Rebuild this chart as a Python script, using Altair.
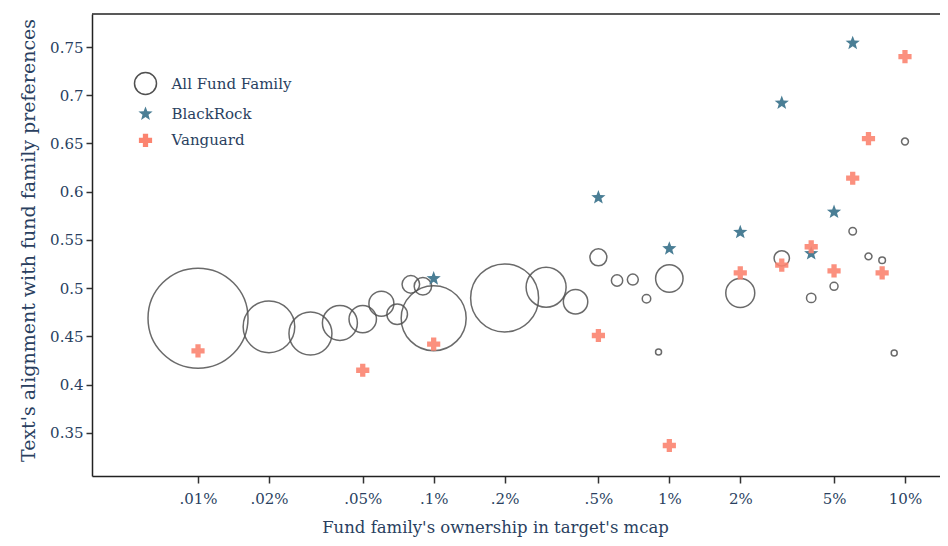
import math
import altair as alt
import pandas as pd

# ---- data ----
all_x = [0.01, 0.02, 0.03, 0.04, 0.05, 0.06, 0.07, 0.08, 0.09,
         0.1, 0.2, 0.3, 0.4, 0.5, 0.6, 0.7, 0.8, 0.9,
         1, 2, 3, 4, 5, 6, 7, 8, 9, 10]
all_y = [0.469, 0.460, 0.453, 0.464, 0.468, 0.484, 0.473, 0.504, 0.502,
         0.469, 0.490, 0.501, 0.486, 0.532, 0.508, 0.509, 0.489, 0.434,
         0.510, 0.495, 0.531, 0.490, 0.502, 0.559, 0.533, 0.529, 0.433, 0.652]
all_obs = [2500, 666, 462, 306, 188, 156, 106, 77, 76,
           1056, 1156, 400, 149, 72, 32, 30, 18, 9,
           188, 210, 59, 22, 16, 14, 12, 11, 9, 12]

br_x = [0.1, 0.5, 1, 2, 3, 4, 5, 6]
br_y = [0.510, 0.594, 0.541, 0.558, 0.692, 0.536, 0.579, 0.754]

vg_x = [0.01, 0.05, 0.1, 0.5, 1, 2, 3, 4, 5, 6, 7, 8, 10]
vg_y = [0.435, 0.415, 0.442, 0.451, 0.337, 0.516, 0.524, 0.543, 0.518, 0.614, 0.655, 0.516, 0.740]

series = ["All Fund Family", "BlackRock", "Vanguard"]
x_ticks = [0.01, 0.02, 0.05, 0.1, 0.2, 0.5, 1, 2, 5, 10]
y_ticks = [0.35, 0.4, 0.45, 0.5, 0.55, 0.6, 0.65, 0.7, 0.75]

rows = []
for x, y, n in zip(all_x, all_y, all_obs):
    rows.append({"own": x, "align": y, "series": series[0], "obs": n})
for x, y in zip(br_x, br_y):
    rows.append({"own": x, "align": y, "series": series[1], "obs": None})
for x, y in zip(vg_x, vg_y):
    rows.append({"own": x, "align": y, "series": series[2], "obs": None})
df = pd.DataFrame(rows)

# ---- styling ----
FONT = "DejaVu Serif"
TXT = "#2a3f5f"
TEAL = "#4a7e95"
SALMON = "#fb8470"
W, H = 848, 462

def star_path(R=0.68, ratio=0.42):
    pts = []
    for i in range(10):
        r = R if i % 2 == 0 else R * ratio
        a = -math.pi / 2 + i * math.pi / 5
        pts.append(f"{r*math.cos(a):.4f},{r*math.sin(a):.4f}")
    return "M" + "L".join(pts) + "Z"

a, b = 0.6, 0.24
plus_path = (f"M{-a},{-b}H{-b}V{-a}H{b}V{-b}H{a}V{b}H{b}V{a}H{-b}V{b}H{-a}Z")

x_enc = alt.X("own:Q", title="Fund family's ownership in target's mcap",
              scale=alt.Scale(type="log", domain=[0.003549, 14.08], nice=False),
              axis=alt.Axis(values=x_ticks, grid=False,
                            labelExpr="datum.value < 1 ? slice(format(datum.value, '~g'), 1) + '%' : format(datum.value, '~g') + '%'",
                            titleX=403, titleFontSize=16.5))
y_enc = alt.Y("align:Q", title="Text's alignment with fund family preferences",
              scale=alt.Scale(domain=[0.3054, 0.7842], nice=False, zero=False),
              axis=alt.Axis(values=y_ticks, grid=False, format="~g",
                            titleFontSize=19, titleY=226))

shape_enc = alt.Shape("series:N", title=None,
                      scale=alt.Scale(domain=series, range=["circle", star_path(), plus_path]),
                      legend=alt.Legend(orient="none", legendX=41.5, legendY=57.5,
                                        symbolSize=484, labelOffset=14, rowPadding=4.4,
                                        padding=0, symbolStrokeWidth=1.5, symbolOpacity=1,
                                        labelFont=FONT, labelFontSize=15, labelColor=TXT))
fill_enc = alt.Fill("series:N", title=None,
                    scale=alt.Scale(domain=series, range=["transparent", TEAL, SALMON]))
stroke_enc = alt.Stroke("series:N", title=None,
                        scale=alt.Scale(domain=series, range=["#505050", "transparent", "transparent"]))

base = alt.Chart(df)

circles = base.transform_filter(alt.datum.series == series[0]).mark_point(
    strokeWidth=1.5, opacity=1, strokeOpacity=0.85, filled=False
).encode(
    x=x_enc, y=y_enc, shape=shape_enc, fill=fill_enc, stroke=stroke_enc,
    size=alt.Size("obs:Q", legend=None,
                  scale=alt.Scale(type="linear", domain=[0, 2500], range=[0, 4 * 2500]))
)

stars = base.transform_filter(alt.datum.series == series[1]).mark_point(
    size=484, strokeWidth=0, opacity=1
).encode(x=x_enc, y=y_enc, shape=shape_enc, fill=fill_enc, stroke=stroke_enc)

pluses = base.transform_filter(alt.datum.series == series[2]).mark_point(
    size=484, strokeWidth=0, opacity=0.9
).encode(x=x_enc, y=y_enc, shape=shape_enc, fill=fill_enc, stroke=stroke_enc)

top_line = alt.Chart(pd.DataFrame({"k": [0]})).mark_rule(
    color="#222", strokeWidth=1.5
).encode(x=alt.value(0), x2=alt.value(W), y=alt.value(0))

chart = alt.layer(circles, stars, pluses, top_line).properties(
    width=W, height=H,
    autosize=alt.AutoSizeParams(type="none"),
    padding={"left": 84, "top": 6, "right": 0, "bottom": 62},
).configure_view(stroke=None).configure_axis(
    labelFont=FONT, titleFont=FONT, labelColor=TXT, titleColor=TXT,
    labelFontSize=15, titleFontWeight="normal",
    domainColor="#222", domainWidth=1.5, tickColor="#333", tickWidth=1.5,
).configure_axisX(tickSize=7, labelPadding=8, titlePadding=13
).configure_axisY(tickSize=6, labelPadding=3, titlePadding=11)

chart.save("out.html", embed_options={"renderer": "svg", "actions": False})
